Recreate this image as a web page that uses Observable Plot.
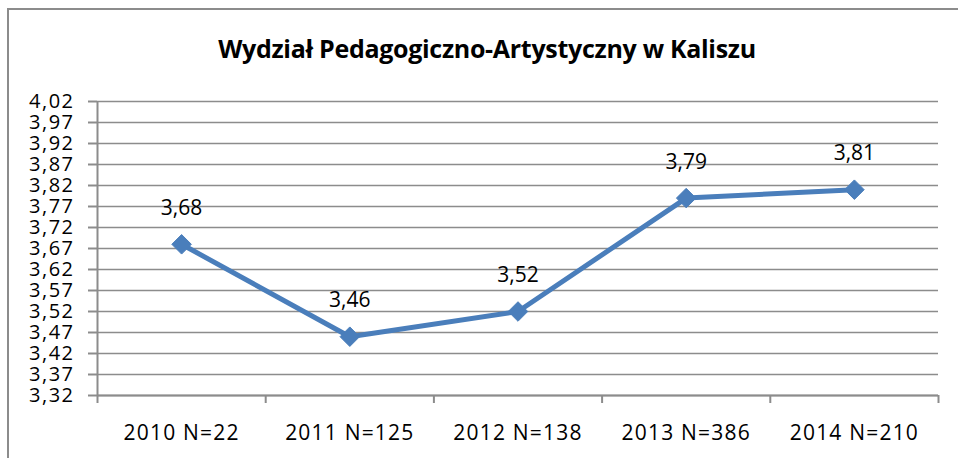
<!DOCTYPE html>
<html>
<head>
<meta charset="utf-8">
<script src="https://cdn.jsdelivr.net/npm/d3@7"></script>
<script src="https://cdn.jsdelivr.net/npm/@observablehq/plot@0.6"></script>
<style>
  html, body { margin: 0; padding: 0; background: #fff; }
  body { width: 958px; height: 458px; overflow: hidden; position: relative; font-family: "Open Sans", sans-serif; }
  #frame { position: absolute; left: 7px; top: 8px; width: 1000px; height: 500px;
           border-left: 2px solid #8c8c8c; border-top: 2px solid #8c8c8c; pointer-events: none; z-index: 2; }
  #title { height: 75px; box-sizing: border-box; padding-top: 32px; padding-left: 16px; line-height: 32px;
           font-size: 25px; font-weight: bold; text-align: center; color: #000; letter-spacing: -0.3px; }
  #chart svg { display: block; }
</style>
</head>
<body>
<div id="frame"></div>
<div id="title">Wydział Pedagogiczno-Artystyczny w Kaliszu</div>
<div id="chart"></div>
<script>
const title = "Wydział Pedagogiczno-Artystyczny w Kaliszu";
const categories = ["2010 N=22", "2011 N=125", "2012 N=138", "2013 N=386", "2014 N=210"];
const values = [3.68, 3.46, 3.52, 3.79, 3.81];
const yTicks = [3.32, 3.37, 3.42, 3.47, 3.52, 3.57, 3.62, 3.67, 3.72, 3.77, 3.82, 3.87, 3.92, 3.97, 4.02];

const fmt = v => v.toFixed(2).replace(".", ",");
const data = categories.map((c, i) => ({i, category: c, value: values[i]}));
const idx = categories.map((c, i) => i);
const bounds = categories.map((c, i) => i - 0.5).concat([categories.length - 0.5]);
const xDomain = [bounds[0], bounds[bounds.length - 1]];
const yDomain = [yTicks[0], yTicks[yTicks.length - 1]];
const gray = "#8c8c8c";
const blue = "#4A7EBB";

const chart = Plot.plot({
  width: 958,
  height: 383,
  marginLeft: 97,
  marginRight: 20,
  marginTop: 26,
  marginBottom: 63,
  style: {background: "transparent", fontFamily: "'Open Sans', sans-serif", color: "#000"},
  x: {type: "linear", domain: xDomain, axis: null, label: null},
  y: {type: "linear", domain: yDomain, axis: null, label: null},
  marks: [
    Plot.ruleY(yTicks, {stroke: gray, strokeWidth: 1.3}),
    Plot.axisY(yTicks, {anchor: "left", label: null, tickSize: 9, tickPadding: 14, tickFormat: fmt, fontSize: 20,
                        stroke: gray, strokeWidth: 2, fill: "#000", strokeOpacity: 1}),
    Plot.axisX(bounds, {anchor: "bottom", label: null, tickSize: 8, tickFormat: () => "", stroke: gray, strokeWidth: 2, strokeOpacity: 1}),
    Plot.axisX(idx, {anchor: "bottom", label: null, tickSize: 0, tickPadding: 30, tickFormat: i => categories[i],
                     fontSize: 21, fill: "#000"}),
    Plot.ruleX([xDomain[0]], {stroke: gray, strokeWidth: 2}),
    Plot.ruleY([yDomain[0]], {stroke: gray, strokeWidth: 2}),
    Plot.line(data, {x: "i", y: "value", stroke: blue, strokeWidth: 5}),
    Plot.dot(data, {x: "i", y: "value", symbol: "diamond2", r: 8.8, fill: blue, stroke: blue, strokeWidth: 1}),
    Plot.text(data, {x: "i", y: "value", text: d => fmt(d.value), dy: -36, fontSize: 21, fill: "#000"})
  ]
});
document.getElementById("chart").appendChild(chart);
d3.select(chart).selectAll("g[aria-label='y-axis tick label'] text").style("letter-spacing", "1.5px");
d3.select(chart).selectAll("g[aria-label='x-axis tick label'] text").style("letter-spacing", "1.2px");
</script>
</body>
</html>
